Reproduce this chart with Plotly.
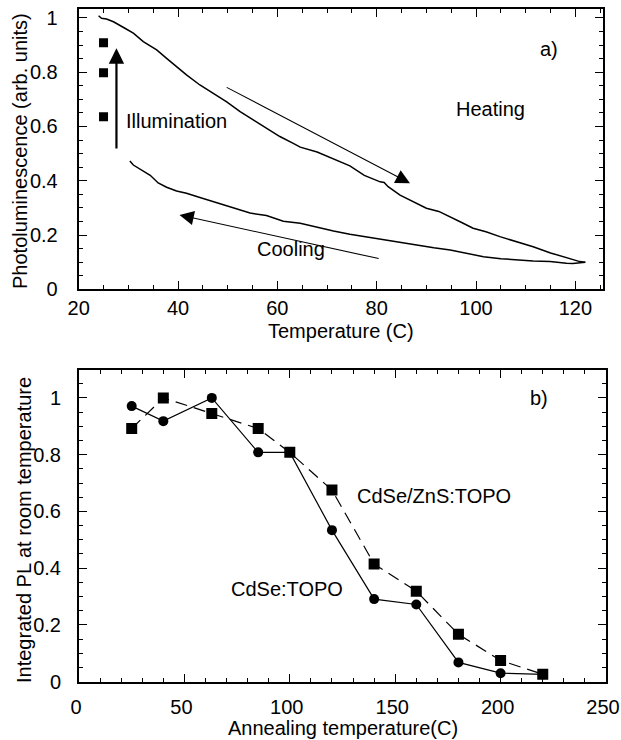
import plotly.graph_objects as go

# ---------------- Panel a) data ----------------
heat_T = [24.0, 24.6, 25.6, 27.0, 29.3, 31.0, 33.0, 35.7, 37.7, 39.7, 41.7, 44.4, 47.1, 49.8,
          52.5, 55.2, 57.8, 60.5, 63.2, 64.6, 68.0, 70.8, 74.6, 77.5, 80.7, 81.5, 82.3,
          84.7, 87.5, 90.0, 92.5, 94.8, 97.0, 99.4, 102.0, 104.8, 108.0, 111.5, 115.0,
          118.2, 120.9, 122.0]
heat_PL = [1.008, 0.999, 0.996, 0.986, 0.962, 0.944, 0.913, 0.882, 0.851, 0.820, 0.790, 0.753,
           0.722, 0.691, 0.655, 0.624, 0.593, 0.563, 0.538, 0.524, 0.506, 0.484, 0.455, 0.420,
           0.396, 0.394, 0.378, 0.347, 0.322, 0.299, 0.287, 0.268, 0.247, 0.225, 0.212, 0.194,
           0.176, 0.157, 0.134, 0.118, 0.102, 0.100]

cool_T = [122.0, 121.0, 119.5, 118.2, 116.5, 114.9, 111.5, 108.2, 105.0, 101.5, 98.0, 94.8,
          91.5, 88.0, 84.5, 81.3, 78.0, 74.6, 71.3, 67.9, 64.6, 61.2, 57.8, 54.5, 52.5, 49.8,
          47.8, 44.4, 41.7, 39.7, 37.7, 36.0, 34.4, 32.3, 31.0, 30.3]
cool_PL = [0.100, 0.097, 0.095, 0.096, 0.100, 0.102, 0.104, 0.108, 0.113, 0.120, 0.132, 0.145,
           0.153, 0.163, 0.172, 0.182, 0.193, 0.203, 0.215, 0.228, 0.243, 0.251, 0.272, 0.281,
           0.292, 0.306, 0.318, 0.338, 0.354, 0.362, 0.376, 0.392, 0.420, 0.442, 0.458, 0.473]

illum_T = [25, 25, 25]
illum_PL = [0.909, 0.798, 0.636]

# ---------------- Panel b) data ----------------
anneal_T = [25, 40, 63, 85, 100, 120, 140, 160, 180, 200, 220]
cdse_topo = [0.971, 0.918, 1.000, 0.808, 0.808, 0.534, 0.291, 0.272, 0.068, 0.030, 0.026]
cdse_zns_topo = [0.892, 1.000, 0.945, 0.892, 0.808, 0.675, 0.415, 0.319, 0.167, 0.075, 0.026]

# axis titles
XA_TITLE = "Temperature (C)"
YA_TITLE = "Photoluminescence (arb. units)"
XB_TITLE = "Annealing temperature(C)"
YB_TITLE = "Integrated PL at room temperature"

FONT = "Liberation Sans, Arial, Helvetica, sans-serif"
W, H = 621, 740

XA_RANGE = [20, 125.5]
YA_RANGE = [0, 1.033]
XB_RANGE = [0, 250]
YB_RANGE = [0, 1.1]

fig = go.Figure()

# panel a
fig.add_trace(go.Scatter(x=heat_T, y=heat_PL, mode="lines", line=dict(color="black", width=1.5),
                         xaxis="x", yaxis="y", showlegend=False))
fig.add_trace(go.Scatter(x=cool_T, y=cool_PL, mode="lines", line=dict(color="black", width=1.5),
                         xaxis="x", yaxis="y", showlegend=False))
fig.add_trace(go.Scatter(x=illum_T, y=illum_PL, mode="markers",
                         marker=dict(symbol="square", size=9, color="black"),
                         xaxis="x", yaxis="y", showlegend=False))

# panel b
fig.add_trace(go.Scatter(x=anneal_T, y=cdse_zns_topo, mode="lines+markers",
                         line=dict(color="black", width=1.2, dash="12px,7px"),
                         marker=dict(symbol="square", size=11, color="black"),
                         xaxis="x2", yaxis="y2", showlegend=False))
fig.add_trace(go.Scatter(x=anneal_T, y=cdse_topo, mode="lines+markers",
                         line=dict(color="black", width=1.2),
                         marker=dict(symbol="circle", size=10, color="black"),
                         xaxis="x2", yaxis="y2", showlegend=False))

# empty traces so the mirror (top / right) tick axes are drawn
fig.add_trace(go.Scatter(x=[], y=[], xaxis="x3", yaxis="y3", showlegend=False, hoverinfo="skip"))
fig.add_trace(go.Scatter(x=[], y=[], xaxis="x4", yaxis="y4", showlegend=False, hoverinfo="skip"))

tickstyle = dict(ticks="inside", ticklen=8, tickwidth=1.3, tickcolor="black",
                 showgrid=False, zeroline=False, automargin=False)
axis_common = dict(showline=True, linecolor="black", linewidth=2, mirror=True,
                   tickfont=dict(family=FONT, size=20, color="black"),
                   ticklabeloverflow="allow", **tickstyle)
mirror_common = dict(showline=False, showticklabels=False, **tickstyle)


def minor(d):
    return dict(dtick=d, ticks="inside", ticklen=4, tickcolor="black", tickwidth=1, showgrid=False)


XA_DOM = [78.7 / W, 602.7 / W]
YA_DOM = [1 - 289.3 / H, 1 - 9 / H]
XB_DOM = [79 / W, 606 / W]
YB_DOM = [1 - 681.7 / H, 1 - 369.5 / H]

fig.update_layout(
    width=W, height=H,
    margin=dict(l=0, r=0, t=0, b=0, autoexpand=False),
    paper_bgcolor="white", plot_bgcolor="white",
    font=dict(family=FONT, size=20, color="black"),
    xaxis=dict(domain=XA_DOM, range=XA_RANGE, dtick=20, tick0=0, minor=minor(5),
               ticklabelstandoff=0, anchor="y", **axis_common),
    yaxis=dict(domain=YA_DOM, range=YA_RANGE, dtick=0.2, tick0=0, minor=minor(0.05),
               ticklabelstandoff=15, anchor="x", **axis_common),
    xaxis3=dict(domain=XA_DOM, range=XA_RANGE, dtick=20, tick0=0, minor=minor(5),
                overlaying="x", side="top", anchor="y3", **mirror_common),
    yaxis3=dict(domain=YA_DOM, range=YA_RANGE, dtick=0.2, tick0=0, minor=minor(0.05),
                overlaying="y", side="right", anchor="x3", **mirror_common),
    xaxis2=dict(domain=XB_DOM, range=XB_RANGE, dtick=50, tick0=0, minor=minor(10),
                ticklabelstandoff=6, ticklabelshift=-3, anchor="y2", **axis_common),
    yaxis2=dict(domain=YB_DOM, range=YB_RANGE, dtick=0.2, tick0=0, minor=minor(0.05),
                ticklabelstandoff=12, anchor="x2", **axis_common),
    xaxis4=dict(domain=XB_DOM, range=XB_RANGE, dtick=50, tick0=0, minor=minor(10),
                overlaying="x2", side="top", anchor="y4", **mirror_common),
    yaxis4=dict(domain=YB_DOM, range=YB_RANGE, dtick=0.2, tick0=0, minor=minor(0.05),
                overlaying="y2", side="right", anchor="x4", **mirror_common),
)

tfont = dict(family=FONT, size=20, color="black")
ann = []
# axis titles
ann.append(dict(x=sum(XA_DOM) / 2, y=1 - 331 / H, xref="paper", yref="paper", text=XA_TITLE,
                showarrow=False, xanchor="center", yanchor="middle", font=tfont))
ann.append(dict(x=20 / W, y=1 - 151 / H, xref="paper", yref="paper", text=YA_TITLE, textangle=-90,
                showarrow=False, xanchor="center", yanchor="middle", font=tfont))
ann.append(dict(x=sum(XB_DOM) / 2, y=1 - 728 / H, xref="paper", yref="paper", text=XB_TITLE,
                showarrow=False, xanchor="center", yanchor="middle", font=tfont))
ann.append(dict(x=24 / W, y=1 - 530 / H, xref="paper", yref="paper", text=YB_TITLE, textangle=-90,
                showarrow=False, xanchor="center", yanchor="middle", font=tfont))
# panel a text labels
ann.append(dict(x=39.7, y=0.62, xref="x", yref="y", text="Illumination", showarrow=False, font=tfont))
ann.append(dict(x=103, y=0.665, xref="x", yref="y", text="Heating", showarrow=False, font=tfont))
ann.append(dict(x=62.8, y=0.148, xref="x", yref="y", text="Cooling", showarrow=False, font=tfont))
ann.append(dict(x=114.6, y=0.885, xref="x", yref="y", text="a)", showarrow=False, font=tfont))
# panel a arrows
ann.append(dict(x=27.6, y=0.888, ax=27.6, ay=0.513, xref="x", yref="y", axref="x", ayref="y",
                text="", showarrow=True, arrowhead=2, arrowsize=1.4, arrowwidth=2.2, arrowcolor="black"))
ann.append(dict(x=86.7, y=0.391, ax=49.5, ay=0.747, xref="x", yref="y", axref="x", ayref="y",
                text="", showarrow=True, arrowhead=2, arrowsize=2.6, arrowwidth=1.1, arrowcolor="black"))
ann.append(dict(x=40.3, y=0.274, ax=80.7, ay=0.112, xref="x", yref="y", axref="x", ayref="y",
                text="", showarrow=True, arrowhead=2, arrowsize=2.6, arrowwidth=1.1, arrowcolor="black"))
# panel b labels
ann.append(dict(x=218, y=1.0, xref="x2", yref="y2", text="b)", showarrow=False, font=tfont))
ann.append(dict(x=168.3, y=0.656, xref="x2", yref="y2", text="CdSe/ZnS:TOPO", showarrow=False, font=tfont))
ann.append(dict(x=98.5, y=0.326, xref="x2", yref="y2", text="CdSe:TOPO", showarrow=False, font=tfont))
fig.update_layout(annotations=ann)

fig.write_html("out.html")
